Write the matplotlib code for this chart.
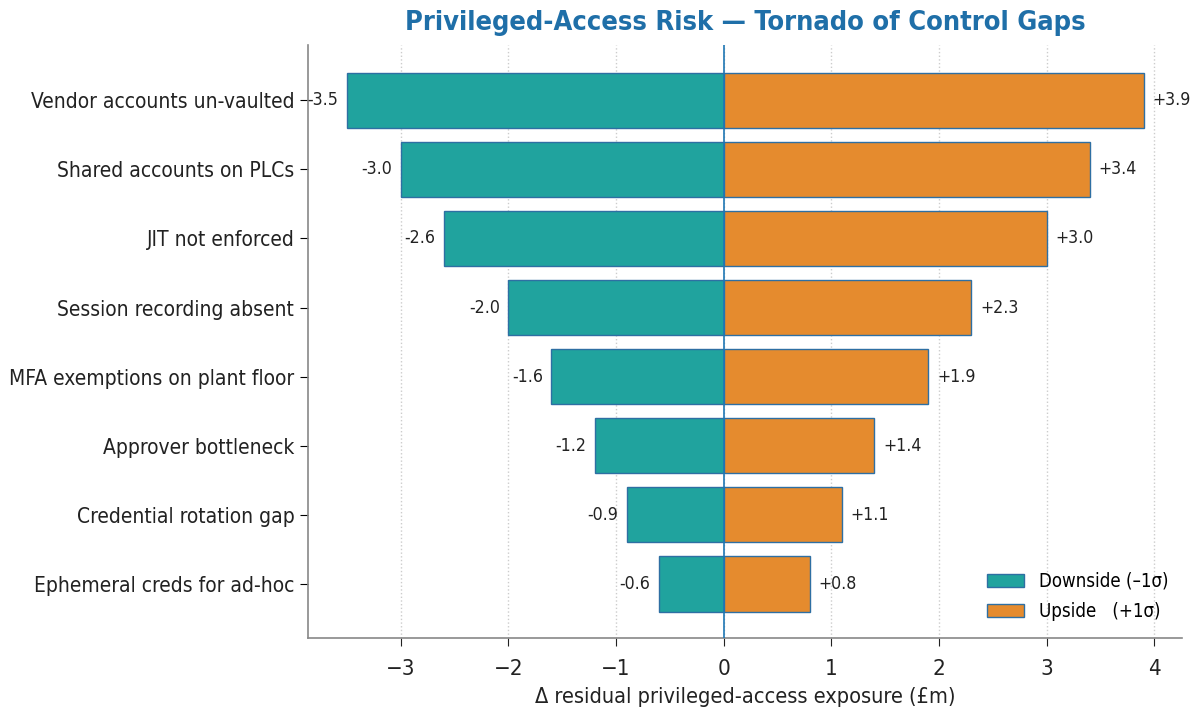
import matplotlib
matplotlib.use("Agg")
import matplotlib.pyplot as plt
import numpy as np

plt.rcParams['font.family'] = ['DejaVu Sans']
plt.rcParams['font.stretch'] = 'condensed'

categories = ["Vendor accounts un-vaulted", "Shared accounts on PLCs", "JIT not enforced",
              "Session recording absent", "MFA exemptions on plant floor", "Approver bottleneck",
              "Credential rotation gap", "Ephemeral creds for ad-hoc"]
downside = [-3.5, -3.0, -2.6, -2.0, -1.6, -1.2, -0.9, -0.6]
upside = [3.9, 3.4, 3.0, 2.3, 1.9, 1.4, 1.1, 0.8]

teal = "#20a39e"
orange = "#e58b2e"
edge = "#2e6fa3"

fig, ax = plt.subplots(figsize=(11.92, 7.15), dpi=100)
fig.subplots_adjust(left=0.258, right=0.992, top=0.937, bottom=0.108)

y = np.arange(len(categories))
ax.barh(y, downside, height=0.8, color=teal, edgecolor=edge, linewidth=1, label="Downside (–1σ)", zorder=3)
ax.barh(y, upside, height=0.8, color=orange, edgecolor=edge, linewidth=1, label="Upside   (+1σ)", zorder=3)

for yi, d, u in zip(y, downside, upside):
    ax.text(d - 0.08, yi, f"{d:.1f}", ha="right", va="center", fontsize=12.7, color="#222222", zorder=4)
    ax.text(u + 0.08, yi, f"+{u:.1f}", ha="left", va="center", fontsize=12.7, color="#222222", zorder=4)

ax.axvline(0, color="#1f77b4", linewidth=1.2, zorder=4)
ax.set_yticks(y)
ax.set_yticklabels(categories, fontsize=15, color="#222222")
ax.set_ylim(7.78, -0.8)
ax.set_xlim(-3.865, 4.26)
ax.tick_params(axis='x', labelsize=16, colors="#222222", length=6, pad=9)
ax.tick_params(axis='y', length=6)
ax.set_xlabel("Δ residual privileged-access exposure (£m)", fontsize=15.6, color="#222222", labelpad=6)
ax.set_title("Privileged-Access Risk — Tornado of Control Gaps", fontsize=19.5, fontweight="bold",
             color="#1f6fa8", pad=2.5, y=1.02)
ax.xaxis.grid(True, linestyle=":", color="#cccccc", linewidth=1, zorder=0)
ax.set_axisbelow(True)
for s in ["top", "right"]:
    ax.spines[s].set_visible(False)
for s in ["left", "bottom"]:
    ax.spines[s].set_color("#888888")
    ax.spines[s].set_linewidth(1.2)

ax.legend(loc="lower right", frameon=False, fontsize=13.4, bbox_to_anchor=(1.003, 0.0),
          labelspacing=0.6)

fig.savefig("out.png", dpi=100)
